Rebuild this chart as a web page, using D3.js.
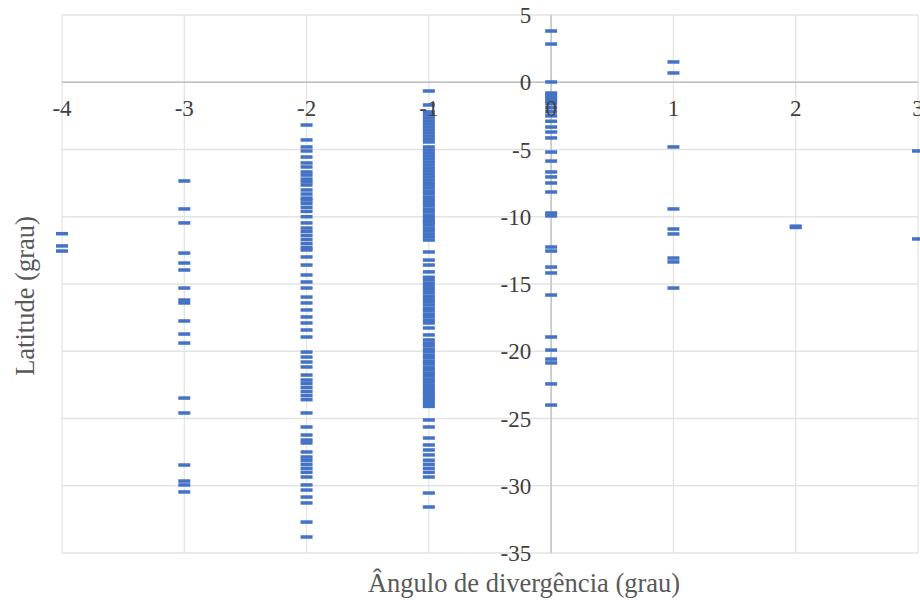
<!DOCTYPE html>
<html>
<head>
<meta charset="utf-8">
<script src="https://cdn.jsdelivr.net/npm/d3@7"></script>
<style>
  body { margin: 0; background: #fff; }
  text { font-family: "Liberation Serif", "Times New Roman", serif; fill: #595959; }
</style>
</head>
<body>
<svg id="chart"></svg>
<script>
const width = 920, height = 601;

// latitude readings for each divergence angle
const latM4 = [-11.26, -12.17, -12.55];
const latM3 = [-7.34, -9.42, -10.46, -12.7, -13.44, -13.96, -15.3, -16.19, -16.41, -17.75, -18.72, -19.39,
  -23.48, -24.59, -28.46, -29.65, -29.94, -30.46];
const latM2 = [-3.18, -4.29, -4.81, -5.11, -5.56, -6.0, -6.3, -6.67, -6.9, -7.2, -7.4, -7.64, -8.01, -8.31, -8.61,
  -8.75, -9.0, -9.3, -9.6, -10.0, -10.46, -10.84, -11.1, -11.4, -11.7, -12.0, -12.3, -12.47, -12.99, -13.59,
  -14.33, -14.85, -15.3, -15.97, -16.41, -16.93, -17.45, -17.9, -18.42, -18.94, -20.06, -20.43, -20.8, -21.17,
  -21.77, -22.14, -22.4, -22.7, -23.0, -23.3, -23.6, -24.59, -25.63, -26.23, -26.6, -26.82, -27.49, -27.86,
  -28.1, -28.4, -28.7, -29.0, -29.35, -29.94, -30.32, -30.84, -31.28, -32.7, -33.81];
const latM1 = [-0.65, -1.69, -2.21, -2.43, -2.66, -2.88, -3.1, -3.33, -3.55, -3.77, -4.0, -4.22, -4.44, -4.81,
  -5.04, -5.26, -5.48, -5.7, -5.93, -6.15, -6.38, -6.6, -6.82, -7.04, -7.27, -7.49, -7.64,
  -7.86, -8.1, -8.3, -8.55, -8.8, -9.0, -9.2, -9.45, -9.65, -9.9, -10.1, -10.3, -10.39,
  -10.6, -10.84, -11.05, -11.28, -11.5, -11.73, -12.62, -13.22, -13.59, -14.1,
  -14.5, -14.7, -14.95, -15.2, -15.4, -15.65, -15.9, -16.1, -16.3, -16.55, -16.8, -17.0, -17.25, -17.45, -17.7, -17.9,
  -18.27, -18.79, -19.16, -19.4, -19.6, -19.85, -20.05, -20.3, -20.5, -20.75, -20.95, -21.2, -21.4, -21.65,
  -21.85, -22.1, -22.3, -22.55, -22.75, -23.0, -23.2, -23.45, -23.65, -23.9, -24.1,
  -25.11, -25.63, -26.45, -26.97, -27.34, -27.71, -28.1, -28.4, -28.7, -29.0, -29.35, -30.54, -31.58];
const lat0 = [3.81, 2.84, 0.02, -0.8, -1.0, -1.2, -1.4, -1.6, -1.9, -2.2, -2.5, -2.9, -3.33, -3.7, -4.14,
  -5.19, -5.86, -6.67, -7.04, -7.49, -8.16, -9.72, -9.94, -12.25, -12.55, -13.74, -14.18, -15.82,
  -18.94, -19.91, -20.58, -20.87, -22.43, -24.0];
const latP1 = [1.51, 0.69, -4.81, -9.42, -10.91, -11.28, -13.07, -13.36, -15.3];
const latP2 = [-10.7, -10.8];
const latP3 = [-5.11, -11.65];

const angles = [-4, -3, -2, -1, 0, 1, 2, 3];
const latitudes = [latM4, latM3, latM2, latM1, lat0, latP1, latP2, latP3];
const xTicks = [-4, -3, -2, -1, 0, 1, 2, 3];
const yTicks = [5, 0, -5, -10, -15, -20, -25, -30, -35];

const points = [];
angles.forEach((a, i) => latitudes[i].forEach(v => points.push({ x: a, y: v })));

const margin = { top: 15, right: 2, bottom: 48, left: 62 };

const svg = d3.select('#chart')
  .attr('width', width)
  .attr('height', height);

const x = d3.scaleLinear().domain([-4, 3]).range([margin.left, width - margin.right]);
const y = d3.scaleLinear().domain([-35, 5]).range([height - margin.bottom, margin.top]);

// gridlines
svg.append('g')
  .selectAll('line.v')
  .data(xTicks)
  .join('line')
  .attr('x1', d => x(d)).attr('x2', d => x(d))
  .attr('y1', y(5)).attr('y2', y(-35))
  .style('stroke', '#e3e3e3').style('stroke-width', 1.3);

svg.append('g')
  .selectAll('line.h')
  .data(yTicks)
  .join('line')
  .attr('x1', x(-4)).attr('x2', x(3))
  .attr('y1', d => y(d)).attr('y2', d => y(d))
  .style('stroke', '#e3e3e3').style('stroke-width', 1.3);

// axis lines crossing at zero
svg.append('line')
  .attr('x1', x(-4)).attr('x2', x(3))
  .attr('y1', y(0)).attr('y2', y(0))
  .style('stroke', '#bfbfbf').style('stroke-width', 1.3);
svg.append('line')
  .attr('x1', x(0)).attr('x2', x(0))
  .attr('y1', y(5)).attr('y2', y(-35))
  .style('stroke', '#bfbfbf').style('stroke-width', 1.3);

// dash markers
svg.append('g')
  .selectAll('rect')
  .data(points)
  .join('rect')
  .attr('x', d => x(d.x) - 6)
  .attr('y', d => y(d.y) - 1.75)
  .attr('width', 12)
  .attr('height', 3.5)
  .style('fill', '#4472c4');

// tick labels (drawn over the marks, like the original)
svg.append('g')
  .selectAll('text')
  .data(xTicks)
  .join('text')
  .attr('x', d => x(d))
  .attr('y', y(0) + 34)
  .attr('text-anchor', 'middle')
  .style('font-size', '23px')
  .style('fill', '#404040')
  .text(d => d);

svg.append('g')
  .selectAll('text')
  .data(yTicks)
  .join('text')
  .attr('x', x(0) - 20)
  .attr('y', d => y(d) + 8)
  .attr('text-anchor', 'end')
  .style('font-size', '23px')
  .style('fill', '#404040')
  .text(d => d);

// axis titles
svg.append('text')
  .attr('x', 524)
  .attr('y', 592)
  .attr('text-anchor', 'middle')
  .style('font-size', '26.5px')
  .text('Ângulo de divergência (grau)');

svg.append('text')
  .attr('transform', 'translate(34, 296) rotate(-90)')
  .attr('text-anchor', 'middle')
  .style('font-size', '26.5px')
  .text('Latitude (grau)');
</script>
</body>
</html>
